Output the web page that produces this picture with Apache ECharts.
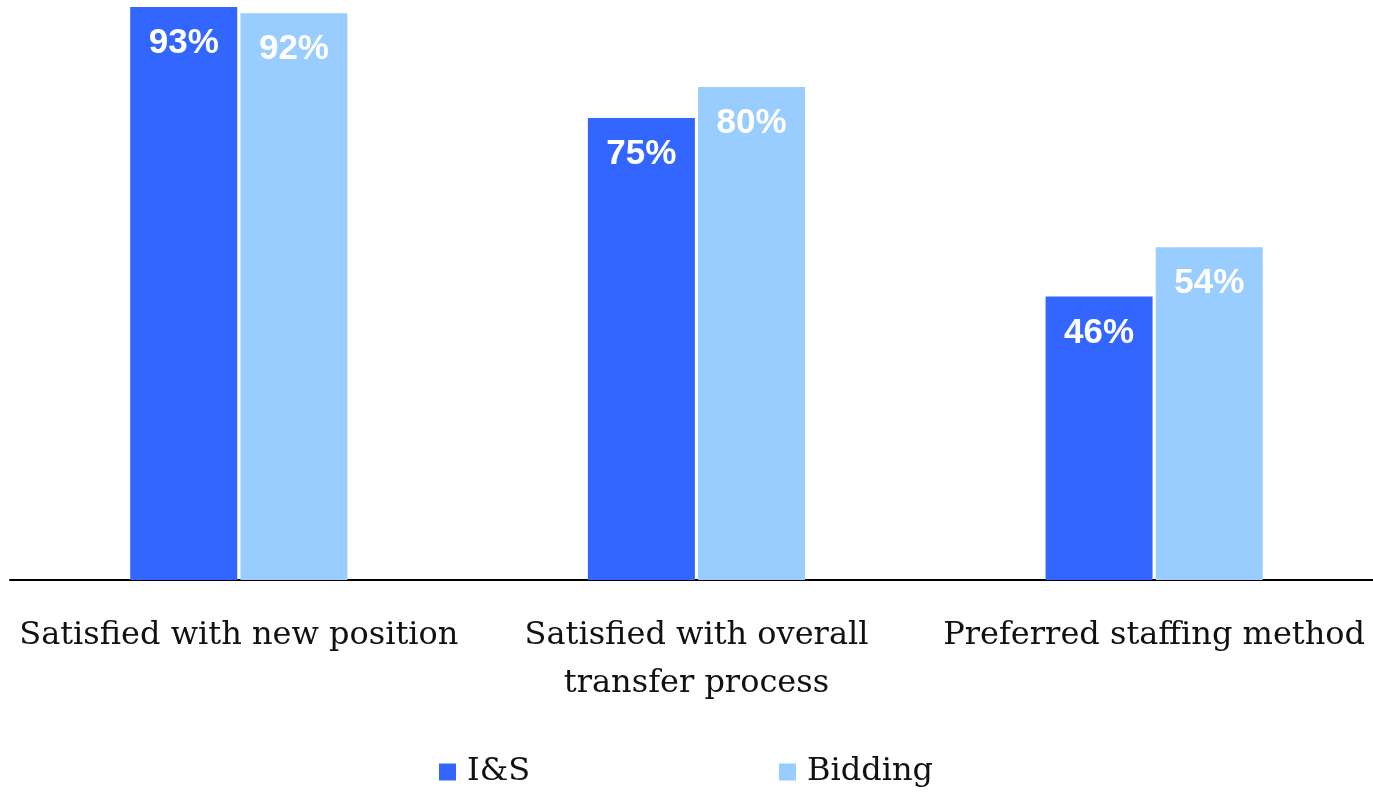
<!DOCTYPE html>
<html>
<head>
<meta charset="utf-8">
<title>Transfer satisfaction</title>
<script src="https://cdn.jsdelivr.net/npm/echarts@6/dist/echarts.min.js"></script>
<style>
  html, body { margin: 0; padding: 0; background: #ffffff; }
  #chart { width: 1373px; height: 794px; }
</style>
</head>
<body>
<div id="chart"></div>
<script>
// Survey categories (axis labels)
const categories = [
  'Satisfied with new position',
  'Satisfied with overall\ntransfer process',
  'Preferred staffing method'
];
// Share of respondents, percent
const seriesNames = ['I&S', 'Bidding'];
const isValues = [93, 75, 46];
const biddingValues = [92, 80, 54];

const colors = ['#3366FF', '#99CCFF'];
const serif = 'DejaVu Serif';

const labelStyle = {
  show: true,
  position: 'insideTop',
  distance: 19,
  color: '#ffffff',
  fontFamily: 'Liberation Sans',
  fontWeight: 'bold',
  fontSize: 35,
  formatter: p => p.value + '%'
};

const legendText = { fontFamily: serif, fontSize: 32, color: '#111111', padding: [0, 0, 0, 6] };

const chart = echarts.init(document.getElementById('chart'), null, { renderer: 'canvas' });

chart.setOption({
  animation: false,
  // plot runs a little past the right edge of the canvas
  grid: {
    left: 10, right: -10, top: 7, bottom: 214,
    containLabel: false,
    outerBoundsMode: 'none'
  },
  legend: [
    {
      left: 439, top: 756, padding: 0,
      itemWidth: 17, itemHeight: 17,
      icon: 'rect',
      data: [seriesNames[0]],
      textStyle: legendText,
      selectedMode: false
    },
    {
      left: 779, top: 756, padding: 0,
      itemWidth: 17, itemHeight: 17,
      icon: 'rect',
      data: [seriesNames[1]],
      textStyle: legendText,
      selectedMode: false
    }
  ],
  xAxis: {
    type: 'category',
    data: categories,
    axisLine: { show: true, lineStyle: { color: '#000000', width: 2 } },
    axisTick: { show: false },
    axisLabel: {
      interval: 0,
      margin: 32,
      fontFamily: serif,
      fontSize: 32,
      lineHeight: 48,
      color: '#111111'
    }
  },
  yAxis: {
    type: 'value',
    min: 0,
    max: 93,
    show: false,
    splitLine: { show: false }
  },
  series: [
    {
      name: seriesNames[0],
      type: 'bar',
      data: isValues,
      barWidth: 107,
      barGap: '3%',
      itemStyle: { color: colors[0] },
      label: labelStyle
    },
    {
      name: seriesNames[1],
      type: 'bar',
      data: biddingValues,
      barWidth: 107,
      barGap: '3%',
      itemStyle: { color: colors[1] },
      label: labelStyle
    }
  ]
});
</script>
</body>
</html>
